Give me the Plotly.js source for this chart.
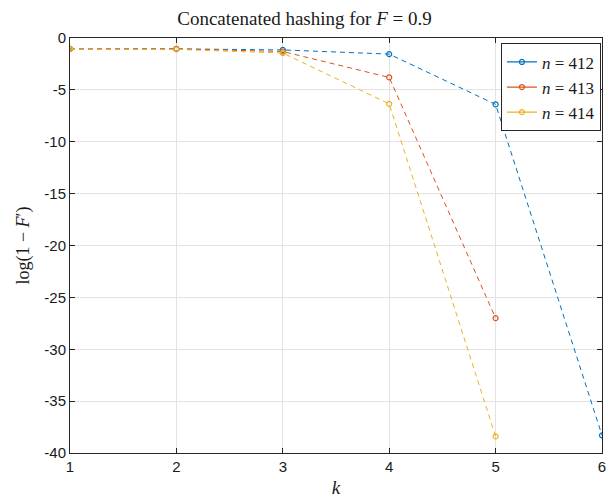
<!DOCTYPE html>
<html>
<head>
<meta charset="utf-8">
<script src="https://cdn.plot.ly/plotly-3.0.1.min.js"></script>
<style>html,body{margin:0;padding:0;background:#fff;}#chart{width:609px;height:499px;}</style>
</head>
<body>
<div id="chart"></div>
<script>
const k = [1, 2, 3, 4, 5, 6];
const n412 = [-1.05, -1.05, -1.15, -1.55, -6.4, -38.3];
const n413 = [-1.05, -1.05, -1.3, -3.8, -27.0];
const n414 = [-1.05, -1.1, -1.45, -6.35, -38.4];
const yTicks = [0, -5, -10, -15, -20, -25, -30, -35, -40];
const yTickLabels = ['0', '-5', '-10', '-15', '-20', '-25', '-30', '-35', '-40'];
const seriesNames = ['<i>n</i> = 412', '<i>n</i> = 413', '<i>n</i> = 414'];
const colors = ['#0072BD', '#D95319', '#EDB120'];
const values = [n412, n413, n414];

const traces = values.map((v, i) => ({
  x: k.slice(0, v.length),
  y: v,
  type: 'scatter',
  mode: 'lines+markers',
  name: seriesNames[i],
  showlegend: false,
  line: {color: colors[i], width: 1, dash: '5px,4px'},
  marker: {symbol: 'circle-open', size: 5, color: colors[i], line: {width: 1.2, color: colors[i]}}
}));
const legendTraces = values.map((v, i) => ({
  x: [null], y: [null],
  type: 'scatter',
  mode: 'lines+markers',
  name: seriesNames[i],
  line: {color: colors[i], width: 1.2},
  marker: {symbol: 'circle-open', size: 5, color: colors[i], line: {width: 1.2, color: colors[i]}}
}));

const axisCommon = {
  showline: true, linecolor: '#262626', linewidth: 1, mirror: 'ticks',
  ticks: 'inside', ticklen: 5, tickcolor: '#262626', tickwidth: 1,
  showgrid: true, gridcolor: '#e3e3e3', gridwidth: 1, zeroline: false,
  tickfont: {family: 'Liberation Sans, Arial, sans-serif', size: 15, color: '#1a1a1a'}
};

const layout = {
  width: 609, height: 499,
  margin: {l: 70, r: 7, t: 38, b: 46},
  paper_bgcolor: '#fff', plot_bgcolor: '#fff',
  title: {text: 'Concatenated hashing for <i>F</i> = 0.9', x: 0.5, xanchor: 'center', y: 0.964, yanchor: 'middle',
    font: {family: 'Liberation Serif, Times New Roman, serif', size: 19, color: '#1a1a1a'}},
  xaxis: Object.assign({}, axisCommon, {
    range: [1, 6], tickvals: k, ticktext: k.map(String),
    title: {text: '<i>k</i>', standoff: 6, font: {family: 'Liberation Serif, serif', size: 19, color: '#1a1a1a'}}
  }),
  yaxis: Object.assign({}, axisCommon, {
    range: [-40, 0], tickvals: yTicks, ticktext: yTickLabels,
    title: {text: 'log(1 − <i>F</i>′)', standoff: 10, font: {family: 'Liberation Serif, serif', size: 18, color: '#1a1a1a'}}
  }),
  legend: {
    x: 0.998, xanchor: 'right', y: 0.987, yanchor: 'top',
    bgcolor: '#fff', bordercolor: '#262626', borderwidth: 1,
    font: {family: 'Liberation Serif, serif', size: 17, color: '#1a1a1a'},
    tracegroupgap: 0, itemwidth: 30
  },
  showlegend: true
};

Plotly.newPlot('chart', traces.concat(legendTraces), layout, {displayModeBar: false, staticPlot: true});
</script>
</body>
</html>
